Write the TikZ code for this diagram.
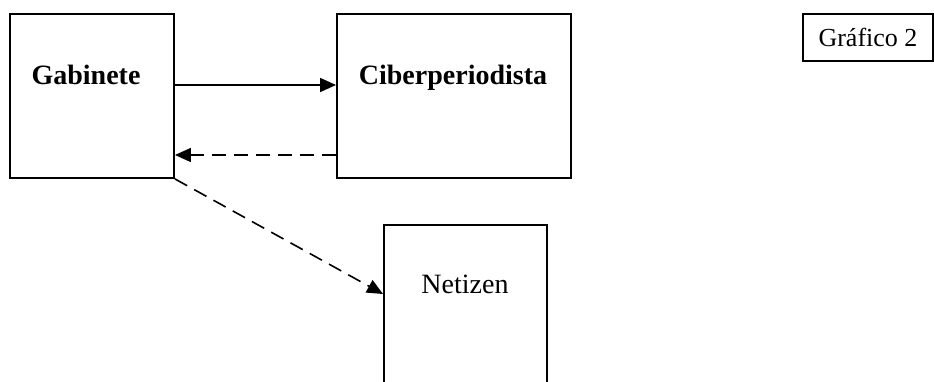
\documentclass[tikz,border=0pt]{standalone}
\usepackage{fontspec}
\setmainfont{Liberation Serif}
\usepackage{tikz}
\usetikzlibrary{arrows.meta}
\usetikzlibrary{positioning}

\tikzset{
   box/.style={draw, line width=1.9pt, minimum height=164pt, inner sep=0pt},
   boxtext/.style={anchor=base, font=\fontsize{28}{32}\selectfont},
   flow/.style={line width=1.6pt, -{Triangle[length=16pt,width=14pt]}},
   backflow/.style={flow, dash pattern=on 14pt off 8pt}
}

\begin{document}
\begin{tikzpicture}[x=1pt, y=-1pt]
   \useasboundingbox (0,0) rectangle (934,382);
   \begin{scope}
   \clip (0,0) rectangle (934,382);
   % the three boxes
   \node[box, minimum width=164pt] (gab) at (92, 96) {};
   \node[box, minimum width=234pt] (cib) at (454, 96) {};
   \node[box, minimum width=163pt] (net) at (465.5, 307) {};
   \end{scope}
   \node[boxtext, font=\fontsize{28}{32}\selectfont\bfseries] (gabtxt) at (86, 85) {Gabinete};
   \node[boxtext, font=\fontsize{28}{32}\selectfont\bfseries] (cibtxt) at (453, 85) {Ciberperiodista};
   \node[boxtext] (nettxt) at (465, 293) {Netizen};
   \node[draw, line width=1.7pt, minimum width=130pt, minimum height=47pt, inner sep=0pt,
         font=\fontsize{26}{30}\selectfont] (graf) at (868, 37.5) {Gráfico 2};
   % connectors
   \draw[flow] ([yshift=11pt]gab.east) -- ([yshift=11pt]cib.west);
   \draw[backflow] ([yshift=-59pt]cib.west) -- ([yshift=-59pt]gab.east);
   \draw[backflow] (gab.south east) -- ([yshift=13pt]net.west);
\end{tikzpicture}
\end{document}
